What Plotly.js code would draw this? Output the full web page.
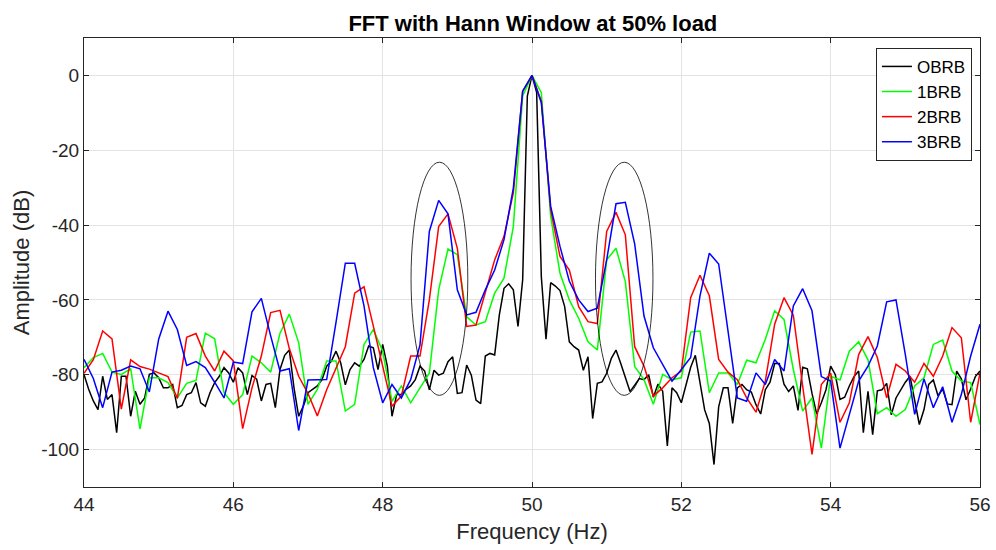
<!DOCTYPE html>
<html><head><meta charset="utf-8">
<script src="https://cdn.plot.ly/plotly-3.0.1.min.js"></script>
<style>html,body{margin:0;padding:0;background:#fff}#chart{width:996px;height:550px}</style>
</head><body><div id="chart"></div>
<script>
// Frequency grids (Hz)
const startHz = 44, stopHz = 56;
const stepFine = 0.0625;   // OBRB resolution
const stepCoarse = 0.125;  // 1BRB/2BRB/3BRB resolution

const seriesNames = ["OBRB", "1BRB", "2BRB", "3BRB"];

// Y tick labels (plain hyphen minus as in the reference)
const yTickVals = [-100, -80, -60, -40, -20, 0];
const yTickText = ["-100", "-80", "-60", "-40", "-20", "0"];

// Amplitudes in dB
const obrb = [
 -79.9,-83.9,-87,-89.3,-80.4,-86.6,-85.3,-95.5,-80.4,-80.4,-91.1,-84.4,-87.9,-86.2,-79.9,-79.5,
 -80.8,-83.5,-83.5,-82.6,-88.8,-88.2,-85.3,-84.8,-82.1,-87.5,-88.4,-84.8,-82.1,-80.4,-78.1,-79.5,
 -82,-78.1,-79.5,-85.3,-80.2,-81.2,-87,-82.6,-82.3,-88.8,-78.6,-74.8,-73.4,-83.5,-91.1,-88.4,
 -84.8,-84,-83,-81.3,-77.7,-76.4,-73.7,-76.8,-82.7,-78.6,-76.8,-77.7,-75.9,-72.3,-72.8,-78.6,
 -71.9,-77.7,-91.1,-85.3,-85.3,-83.9,-83,-81.3,-77.7,-79,-84,-78.8,-80.1,-79.6,-76.5,-75.2,
 -85,-84.8,-77.4,-80.1,-86.8,-87.7,-75,-74.3,-74.7,-64,-56.9,-55.7,-57.3,-67.1,-54.6,-5.5,
 0,-4.6,-53.8,-70.5,-55.4,-56.3,-57.5,-61.8,-71.2,-72.5,-73.4,-78.8,-75.2,-91.7,-82.3,-81.9,
 -79.6,-75.6,-73.4,-76.9,-81,-84.5,-82.8,-81,-81.3,-80,-86,-82.5,-84.4,-99,-83.5,-84.8,
 -87.5,-83,-78,-74.8,-82.7,-89.4,-93,-104,-88.6,-83.5,-83.5,-93,-83.5,-82.6,-84,-84.6,
 -88,-90.5,-84,-82,-77,-77,-82.5,-84.5,-83,-89.5,-78,-78.4,-85,-90.5,-87.5,-84,
 -77.7,-80,-86.6,-86,-83,-80.5,-79,-95.5,-84.4,-96,-84.3,-84,-82.3,-90.7,-86.2,-84,
 -82,-80.4,-86.6,-93.3,-89.3,-82.6,-81.4,-85.6,-83.8,-87.8,-88,-79,-81.1,-86.7,-83.8,-80.5,
 -79
];
const brb1 = [
 -78.1,-75.4,-74.3,-79.3,-79.9,-78.4,-94.5,-80.8,
 -80.8,-82.1,-86.2,-82.3,-81.5,-68.9,-70.4,-84.8,
 -87.9,-85.3,-75,-76.8,-79.3,-68.9,-63.8,-71.4,
 -87.9,-83.9,-76.3,-76.3,-89.7,-87.9,-71.9,-67.9,
 -73.7,-87.1,-83,-87.5,-83.5,-79.6,-57.3,-46.4,
 -47.9,-64.5,-66.7,-65.8,-58.2,-54.2,-40.4,-5.5,
 0,-4.6,-37.7,-52.9,-60,-64.9,-71.2,-73.4,
 -49.3,-46.2,-55.1,-77.8,-81.3,-87.9,-79.9,-81.3,
 -80.8,-68.6,-68.3,-84.8,-79.5,-79.5,-82.6,-76.1,
 -76.8,-70.5,-62.9,-65.2,-78.6,-89.7,-86.2,-99.6,
 -80.4,-81.4,-73.7,-71.2,-76,-90.4,-88.8,-91.1,
 -89.3,-83,-80.8,-71.9,-70.7,-79,-81.7,-82.1,
 -93.3
];
const brb2 = [
 -79.6,-76,-68.3,-70.4,-89.2,-76,-77.8,-78.5,
 -79.5,-80.5,-86.3,-70,-69,-75,-79,-73.7,
 -76.3,-94.4,-83.5,-75,-63.4,-62.8,-73,-80.4,
 -85,-91,-84,-78,-72.5,-58.2,-56.5,-67,
 -77.7,-88.4,-85.7,-75,-75,-60,-40.4,-37,
 -46.2,-67.1,-66.7,-58,-49.3,-43,-31.4,-4.2,
 0,-6.9,-35.9,-48.4,-52,-61.8,-65.8,-66.3,
 -41.7,-36.6,-42.6,-72.5,-77.7,-85.7,-83.5,-80.8,
 -79,-59.4,-53.4,-58.9,-75.9,-79.3,-81.3,-86.2,
 -90,-81.7,-66.5,-59.4,-64.1,-83,-101.3,-82.6,
 -79.6,-92.7,-87.5,-74.6,-69.8,-75.4,-86.2,-77.2,
 -79,-82,-77,-80.4,-75,-67.4,-70.1,-92.7,
 -79.5
];
const brb3 = [
 -75.9,-81,-88.8,-79.3,-78.8,-77.7,-78.4,-84.6,
 -70.5,-63,-67.9,-77.5,-76.5,-78.1,-82,-86.2,
 -76.6,-77,-63.2,-59.6,-69.6,-79,-78.4,-94.9,
 -81.4,-81.3,-81.3,-66,-50.2,-50.2,-61.6,-78.1,
 -87.5,-82.6,-86.2,-81.3,-72,-41.7,-33.4,-37,
 -57.3,-64,-63.3,-57.3,-52,-43.9,-30.1,-4.2,
 0,-7.3,-35,-45.7,-55,-60,-63.1,-62.2,
 -49.3,-34.3,-33.9,-45,-64.3,-72.8,-77.2,-81.7,
 -78.6,-75.4,-58.9,-47.5,-50.4,-67.9,-86.2,-87.1,
 -79.5,-82.6,-75.9,-79,-61.6,-57,-62.9,-80.5,
 -81.7,-99.6,-90.6,-81.7,-77.7,-72.3,-60.5,-60,
 -74.6,-90.6,-81.1,-88.8,-83.2,-92.7,-85.3,-75,
 -66.5
];
const seriesColors = ["#000000", "#00FF00", "#FF0000", "#0000FF"];

// Highlight ellipses (sideband regions), in data units
const ellipseX0 = [48.38, 50.85];
const ellipseX1 = [49.14, 51.62];
const ellipseY0 = [-85.5, -85.5];
const ellipseY1 = [-23.2, -23.2];

function grid(step, n){ const a=[]; for(let i=0;i<n;i++) a.push(+(startHz+i*step).toFixed(4)); return a; }

const allY = [obrb, brb1, brb2, brb3];
const steps = [stepFine, stepCoarse, stepCoarse, stepCoarse];
const traces = allY.map((ys,k)=>({
  type:'scatter', mode:'lines', name: seriesNames[k],
  x: grid(steps[k], ys.length), y: ys,
  line:{color: seriesColors[k], width:1.5}
}));

const shapes = ellipseX0.map((x0,i)=>({
  type:'circle', xref:'x', yref:'y', x0:x0, x1:ellipseX1[i], y0:ellipseY0[i], y1:ellipseY1[i],
  line:{color:'#000000', width:0.8}
}));

const font = "Liberation Sans, Arial, Helvetica, sans-serif";
const layout = {
  width:996, height:550,
  margin:{l:84, r:16, t:38, b:63},
  paper_bgcolor:'#ffffff', plot_bgcolor:'#ffffff',
  font:{family:font, color:'#262626', size:19},
  title:{text:'<b>FFT with Hann Window at 50% load</b>', font:{family:font, size:22, color:'#000000'}, x:0.535, xanchor:'center', y:0.958, yanchor:'middle'},
  xaxis:{range:[startHz, stopHz], dtick:2, tick0:44, showgrid:true, gridcolor:'#e3e3e3', gridwidth:1,
    zeroline:false, showline:true, mirror:'ticks', linecolor:'#262626', linewidth:1,
    ticks:'inside', ticklen:5, tickcolor:'#262626', tickfont:{size:19, color:'#262626'},
    title:{text:'Frequency (Hz)', font:{size:22, color:'#262626'}, standoff:9}},
  yaxis:{range:[-110, 10], tickmode:'array', tickvals:yTickVals, ticktext:yTickText, showgrid:true, gridcolor:'#e3e3e3', gridwidth:1,
    zeroline:false, showline:true, mirror:'ticks', linecolor:'#262626', linewidth:1,
    ticks:'inside', ticklen:5, tickcolor:'#262626', tickfont:{size:19, color:'#262626'},
    title:{text:'Amplitude (dB)', font:{size:22, color:'#262626'}, standoff:5}},
  legend:{x:0.991, xanchor:'right', y:0.978, yanchor:'top', bgcolor:'#ffffff',
    bordercolor:'#262626', borderwidth:1, font:{size:17, color:'#000000'},
    tracegroupgap:0, itemwidth:30},
  shapes: shapes,
  showlegend:true
};
Plotly.newPlot('chart', traces, layout, {displayModeBar:false, staticPlot:true});
</script></body></html>
